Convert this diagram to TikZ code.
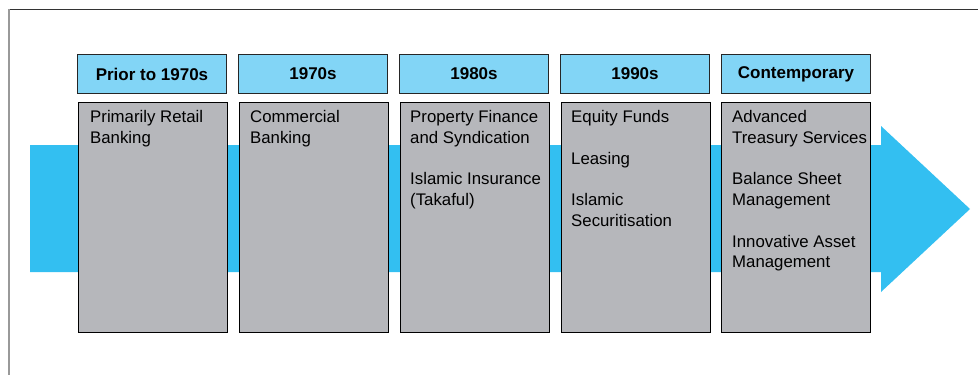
\documentclass[tikz,border=0pt]{standalone}
\usepackage{fontspec}
\setmainfont{Liberation Sans}
\definecolor{arrowblue}{HTML}{33BFF1}
\definecolor{headblue}{HTML}{82D5F6}
\definecolor{boxgray}{HTML}{B6B7BB}
\definecolor{framedark}{HTML}{333333}
\definecolor{framelight}{HTML}{999999}
\newcommand{\contentfont}{\fontsize{16.8}{20.7}\selectfont}
\newcommand{\headfont}{\fontsize{17}{20.7}\selectfont\bfseries}
\tikzset{
  headbox/.style={draw=black!85, fill=headblue, line width=1pt, minimum width=149pt, minimum height=39pt, inner sep=0pt, anchor=north west, font=\headfont},
  contentbox/.style={draw=black, fill=boxgray, line width=1.3pt, minimum width=149pt, minimum height=230pt, inner sep=0pt, anchor=north west},
  contenttext/.style={anchor=north west, inner sep=0pt, align=left, font=\contentfont}
}
\begin{document}
\begin{tikzpicture}[x=1pt,y=-1pt]
\useasboundingbox (0,0) rectangle (978,375);
% frame
\draw[framedark, line width=1pt] (8.5,9) -- (978,9);
\draw[framelight, line width=1.4pt] (9,9) -- (9,375);
% big arrow
\fill[arrowblue] (30,145) -- (881,145) -- (881,126) -- (970,209) -- (881,292) -- (881,272) -- (30,272) -- cycle;
% headers
\node[headbox] (h1) at (77,54) {Prior to 1970s};
\node[headbox] (h2) at (238,54) {1970s};
\node[headbox] (h3) at (399,54) {1980s};
\node[headbox] (h4) at (560,54) {1990s};
\node[headbox] (h5) at (721,54) {Contemporary};
% content boxes
\node[contentbox] (c1) at (78,101.5) {};
\node[contentbox] (c2) at (239,101.5) {};
\node[contentbox] (c3) at (400,101.5) {};
\node[contentbox] (c4) at (561,101.5) {};
\node[contentbox] (c5) at (721,101.5) {};
% texts
\node[contenttext] (t1) at (90,110.5) {Primarily Retail\\Banking};
\node[contenttext] (t2) at (250,110.5) {Commercial\\Banking};
\node[contenttext] (t3) at (410,110.5) {Property Finance\\and Syndication\\[20.7pt]Islamic Insurance\\(Takaful)};
\node[contenttext] (t4) at (571,110.5) {Equity Funds\\[20.7pt]Leasing\\[20.7pt]Islamic\\Securitisation};
\node[contenttext] (t5) at (732,110.5) {Advanced\\Treasury Services\\[20.7pt]Balance Sheet\\Management\\[20.7pt]Innovative Asset\\Management};
\end{tikzpicture}
\end{document}
